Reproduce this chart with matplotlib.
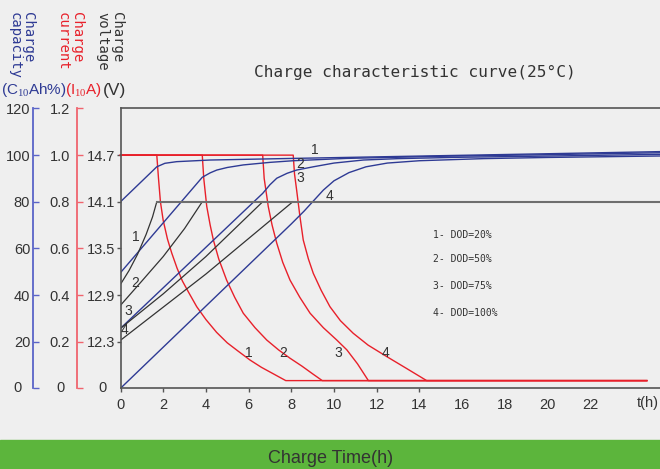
import matplotlib.pyplot as plt
import numpy as np

# ---- data (x = hours, y = capacity % scale) ----
hours_ticks = list(range(0, 23, 2))
cap_ticks = [0, 20, 40, 60, 80, 100, 120]
cur_labels = ['', '0.2', '0.4', '0.6', '0.8', '1.0', '1.2']
volt_ticks = [20, 40, 60, 80, 100]
volt_labels = ['12.3', '12.9', '13.5', '14.1', '14.7']

# charge current (red), in % of I10 scale
cur1_t = [0, 1.70, 1.78, 1.87, 2.0, 2.2, 2.4, 2.65, 2.9, 3.2, 3.57, 4.0, 4.5, 5.0, 5.5,
          6.07, 6.6, 7.2, 7.74, 24.65]
cur1_v = [100, 100, 90, 80, 72, 64, 58, 51.5, 46, 41, 35, 29.5, 24, 19.5, 16,
          12.1, 9, 6, 3.3, 3.3]
cur2_t = [0, 3.83, 3.9, 4.04, 4.2, 4.35, 4.6, 4.97, 5.35, 5.75, 6.3, 6.85, 7.4, 7.94,
          8.5, 9.0, 9.45, 24.65]
cur2_v = [100, 100, 90, 78, 70, 63.6, 55.5, 46.4, 39, 32.2, 26, 20.7, 16.5, 12.9,
          9.5, 6.2, 3.3, 3.3]
cur3_t = [0, 6.66, 6.73, 6.92, 7.1, 7.32, 7.6, 7.94, 8.4, 8.88, 9.5, 10.13, 10.6,
          11.1, 11.61, 24.65]
cur3_v = [100, 100, 90, 78, 70, 62.2, 54, 46.4, 39, 32.2, 26, 20.7, 16.5,
          10.5, 3.3, 3.3]
cur4_t = [0, 8.09, 8.15, 8.25, 8.4, 8.56, 8.8, 9.03, 9.4, 9.81, 10.3, 10.9, 11.6,
          12.47, 13.4, 14.34, 24.65]
cur4_v = [100, 100, 92, 85, 74, 63.6, 55.5, 49.3, 42, 35, 29, 23.6, 18.5,
          13.6, 8.5, 3.3, 3.3]

# charge capacity (blue)
cap1_t = [0, 1.70, 2.08, 2.63, 4.19, 8.09, 14, 20, 25.8]
cap1_v = [80, 95, 96.5, 97.2, 97.9, 98.6, 99.6, 100.6, 101.6]
cap2_t = [0, 3.83, 4.2, 4.51, 5.0, 5.75, 7.0, 8.09, 10.6, 15, 20, 25.8]
cap2_v = [49.6, 90.5, 92.4, 93.6, 94.7, 95.8, 96.9, 97.6, 98.6, 99.5, 100.2, 101.1]
cap3_t = [0, 6.66, 7.0, 7.32, 7.8, 8.25, 9.03, 10, 11.37, 13, 16, 20, 25.8]
cap3_v = [25.7, 83.6, 87.3, 90.1, 92.2, 93.6, 95, 96.6, 97.9, 98.5, 99.1, 99.6, 100.4]
cap4_t = [0, 8.0, 8.6, 9.0, 9.5, 10.0, 10.7, 11.5, 12.5, 14.0, 17, 20, 25.8]
cap4_v = [0, 70.5, 76, 80, 85, 89, 92.5, 95, 96.6, 97.6, 98.5, 99, 99.7]

# charge voltage (black), on the same vertical scale
volt1_t = [0, 0.4, 0.8, 1.2, 1.5, 1.70]
volt1_v = [44.6, 50.5, 57.5, 66, 73.5, 80]
volt2_t = [0, 1.0, 2.0, 3.0, 3.83]
volt2_v = [35.6, 46, 56.5, 68.5, 80]
volt3_t = [0, 2.0, 4.0, 6.66]
volt3_v = [25.7, 40.5, 56.5, 80]
volt4_t = [0, 4.0, 8.07]
volt4_v = [20.6, 49, 80]
volt_flat_t = [1.70, 25.8]
volt_flat_v = [80, 80]

dod_labels = ['1- DOD=20%', '2- DOD=50%', '3- DOD=75%', '4- DOD=100%']

# ---- style ----
BG = '#efefef'
BLUE = '#2e3a94'
RED = '#e8202a'
DARK = '#333333'
W, H = 660, 469

plt.rcParams['font.family'] = ['Liberation Sans', 'DejaVu Sans']
plt.rcParams['mathtext.fontset'] = 'custom'
plt.rcParams['mathtext.rm'] = 'Liberation Serif'
plt.rcParams['mathtext.it'] = 'Liberation Serif'

fig = plt.figure(figsize=(W / 100, H / 100), dpi=100, facecolor=BG)

def px(x, y):
    return x / W, 1 - y / H

# green band at the bottom
fig.patches.append(plt.Rectangle((0, 0), 1, (H - 440) / H, transform=fig.transFigure,
                                 color='#5cb53c', zorder=0))
fig.text(*px(331, 458), 'Charge Time(h)', ha='center', va='center', fontsize=13, color=DARK)

x0, y0, ytop = 120.5, 388.3, 108.5
pph = 21.35
xr = 672
ax = fig.add_axes([x0 / W, (H - y0) / H, (xr - x0) / W, (y0 - ytop) / H])
ax.set_facecolor(BG)
ax.set_xlim(0, (xr - x0) / pph)
ax.set_ylim(0, 120)

for t, v in [(cur1_t, cur1_v), (cur2_t, cur2_v), (cur3_t, cur3_v), (cur4_t, cur4_v)]:
    ax.plot(t, v, color=RED, lw=1.0, clip_on=False)
for t, v in [(cap1_t, cap1_v), (cap2_t, cap2_v), (cap3_t, cap3_v), (cap4_t, cap4_v)]:
    ax.plot(t, v, color=BLUE, lw=1.0)
for t, v in [(volt1_t, volt1_v), (volt2_t, volt2_v), (volt3_t, volt3_v), (volt4_t, volt4_v)]:
    ax.plot(t, v, color=DARK, lw=0.9)
ax.plot(volt_flat_t, volt_flat_v, color='#6e6e6e', lw=1.5)

# curve numbers
for s, (t, v) in zip('1234', [(0.73, 64.8), (0.68, 45.1), (0.35, 33.1), (0.21, 25.0)]):
    ax.text(t, v, s, fontsize=10, color=DARK, ha='center', va='center')
for s, (t, v) in zip('1234', [(9.11, 102.4), (8.41, 96.2), (8.41, 90.2), (9.81, 82.5)]):
    ax.text(t, v, s, fontsize=10, color=DARK, ha='center', va='center')
for s, t in zip('1234', [6.02, 7.61, 10.19, 12.43]):
    ax.text(t, 15.2, s, fontsize=10, color=DARK, ha='center', va='center')

for lab, v in zip(dod_labels, [65.9, 55.5, 43.9, 32.4]):
    ax.text(14.62, v, lab, fontsize=7, family='DejaVu Sans Mono', color=DARK,
            ha='left', va='center')

# spines and ticks of the main axes
for side in ['left', 'bottom', 'top']:
    ax.spines[side].set_color('#555555')
    ax.spines[side].set_linewidth(1.2)
ax.spines['right'].set_visible(False)
ax.set_xticks(hours_ticks)
ax.set_xticklabels([str(h) for h in hours_ticks])
ax.set_yticks(volt_ticks)
ax.set_yticklabels(volt_labels)
ax.tick_params(axis='both', direction='out', length=3, width=1, color='#555555',
               labelsize=10.5, labelcolor=DARK, pad=1)
ax.tick_params(axis='x', pad=4)
for tk in ax.xaxis.get_major_ticks()[8:]:
    tk.tick1line.set_visible(False)
ax.text(24.7, -6.3, 't(h)', fontsize=10.5, color=DARK, ha='center', va='center', clip_on=False)

# left scales: capacity (blue) and current (red)
for xpos, col, labels in [(33, '#5a64c8', [str(c) for c in cap_ticks[1:]]),
                          (77, '#f0646e', cur_labels[1:])]:
    sa = fig.add_axes([xpos / W, (H - y0) / H, 0.0001, (y0 - ytop) / H])
    sa.set_facecolor('none')
    sa.set_ylim(0, 120)
    sa.set_xticks([])
    for side in ['right', 'bottom', 'top']:
        sa.spines[side].set_visible(False)
    sa.spines['left'].set_color(col)
    sa.spines['left'].set_linewidth(1.3)
    sa.set_yticks(cap_ticks)
    sa.set_yticklabels([''] + labels)
    sa.tick_params(axis='y', direction='in', length=4, width=1, color=col,
                   labelsize=10.5, labelcolor=DARK, pad=2 if xpos < 50 else 5)

# centred zero labels
for xz in [17.5, 60.5, 102.5]:
    fig.text(*px(xz, 388), '0', fontsize=10.5, color=DARK, ha='center', va='center')

# unit row
fig.text(*px(1, 90), r'(C$_{10}$Ah%)', fontsize=11, color=BLUE, ha='left', va='center')
fig.text(*px(65, 90), r'(I$_{10}$A)', fontsize=11, color=RED, ha='left', va='center')
fig.text(*px(114, 90), '(V)', fontsize=12.5, color=DARK, ha='center', va='center')

# vertical axis titles
for xpos, s, col in [(28, 'Charge', BLUE), (15, 'capacity', BLUE),
                     (77, 'Charge', RED), (63, 'current', RED),
                     (117, 'Charge', DARK), (102, 'voltage', DARK)]:
    fig.text(*px(xpos, 12), s, rotation=-90, ha='center', va='top', fontsize=10,
             family='DejaVu Sans Mono', color=col)

fig.text(*px(414.5, 72), 'Charge characteristic curve(25°C)', ha='center', va='center',
         fontsize=11.6, family='DejaVu Sans Mono', color=DARK)

fig.savefig('out.png', dpi=100, facecolor=BG)
